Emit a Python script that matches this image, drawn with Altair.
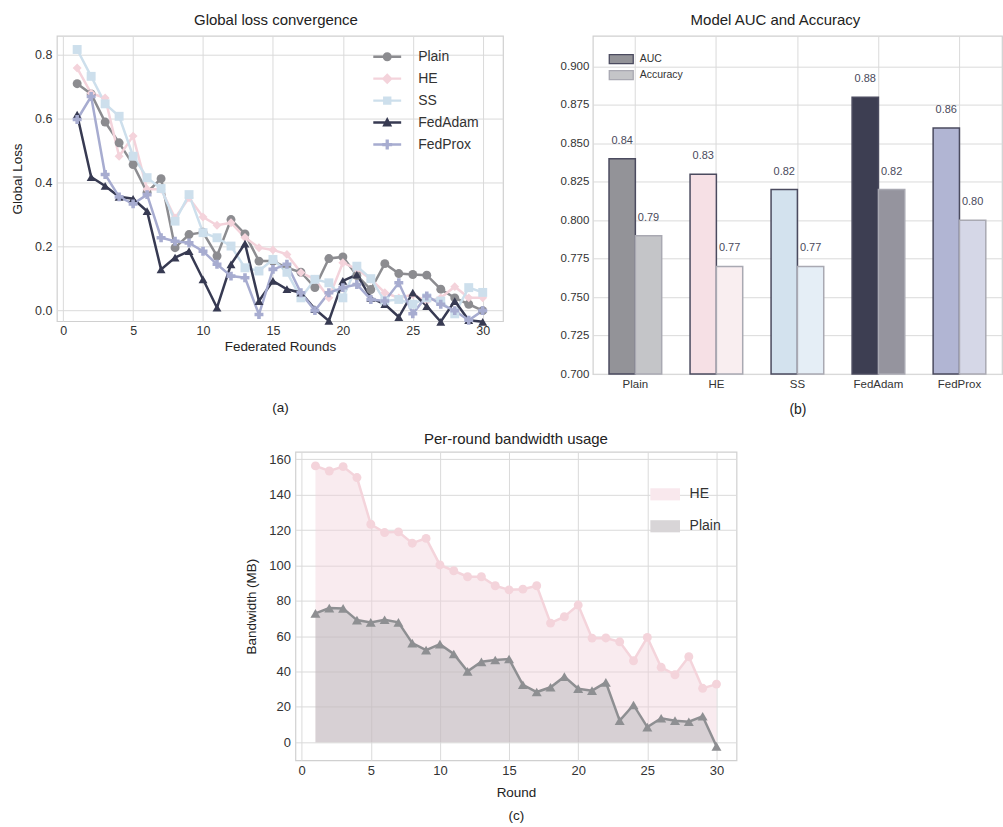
import altair as alt
import pandas as pd

FONT = "Liberation Sans"

# ---------------- data: panel (a) ----------------
ROUNDS = [1, 2, 3, 4, 5, 6, 7, 8, 9, 10, 11, 12, 13, 14, 15,
          16, 17, 18, 19, 20, 21, 22, 23, 24, 25, 26, 27, 28, 29, 30]
SERIES = ["Plain", "HE", "SS", "FedAdam", "FedProx"]
SERIES_COLORS = ["#8c8c90", "#f4d3db", "#cddfec", "#373a52", "#a7acd0"]
LOSS_PLAIN = [0.710, 0.678, 0.590, 0.525, 0.457, 0.370, 0.413, 0.197, 0.238, 0.245,
              0.171, 0.285, 0.240, 0.155, 0.155, 0.134, 0.120, 0.072, 0.163, 0.168,
              0.110, 0.066, 0.147, 0.116, 0.113, 0.111, 0.067, 0.040, 0.020, 0.000]
LOSS_HE = [0.759, 0.680, 0.665, 0.483, 0.546, 0.380, 0.380, 0.290, 0.353, 0.293,
           0.267, 0.275, 0.229, 0.197, 0.190, 0.176, 0.119, 0.098, 0.040, 0.150,
           0.130, 0.098, 0.056, 0.040, 0.050, 0.030, 0.040, 0.075, 0.040, 0.040]
LOSS_SS = [0.817, 0.733, 0.647, 0.608, 0.483, 0.416, 0.382, 0.280, 0.363, 0.244,
           0.228, 0.202, 0.134, 0.124, 0.160, 0.120, 0.040, 0.098, 0.087, 0.040,
           0.139, 0.100, 0.030, 0.035, 0.020, 0.040, 0.030, -0.010, 0.072, 0.057]
LOSS_FEDADAM = [0.613, 0.418, 0.390, 0.356, 0.350, 0.311, 0.129, 0.166, 0.186, 0.098,
                0.009, 0.145, 0.210, 0.030, 0.093, 0.067, 0.056, 0.005, -0.032, 0.093,
                0.113, 0.040, 0.020, -0.020, 0.056, 0.014, -0.035, 0.030, -0.030, -0.035]
LOSS_FEDPROX = [0.598, 0.670, 0.426, 0.356, 0.334, 0.363, 0.228, 0.217, 0.212, 0.186,
                0.145, 0.108, 0.103, -0.012, 0.129, 0.145, 0.056, 0.000, 0.056, 0.072,
                0.082, 0.035, 0.030, 0.087, -0.010, 0.046, 0.020, 0.000, -0.030, 0.000]
LOSS_TICKS = [0.0, 0.2, 0.4, 0.6, 0.8]
ROUND_TICKS = [0, 5, 10, 15, 20, 25, 30]

# ---------------- data: panel (b) ----------------
MODELS = ["Plain", "HE", "SS", "FedAdam", "FedProx"]
METRICS = ["AUC", "Accuracy"]
AUC = [0.84, 0.83, 0.82, 0.88, 0.86]
ACCURACY = [0.79, 0.77, 0.77, 0.82, 0.80]
AUC_COLORS = ["#939398", "#f6e0e5", "#d3e2ee", "#3d3e52", "#b1b5d3"]
ACC_COLORS = ["#c4c5c8", "#f9eef0", "#e5eef6", "#95949e", "#d5d7e7"]
EDGE_COLORS = ["#4b4b5f", "#a9a9b2"]
LEGEND_B_COLORS = ["#939398", "#c4c5c8"]
SCORE_TICKS = [0.700, 0.725, 0.750, 0.775, 0.800, 0.825, 0.850, 0.875, 0.900]

# ---------------- data: panel (c) ----------------
BW_HE = [156.3, 153.4, 155.9, 149.7, 123.3, 118.6, 119.0, 112.6, 115.3, 100.3,
         97.0, 93.6, 93.6, 88.5, 86.2, 86.6, 88.5, 67.4, 71.0, 77.6,
         58.9, 59.0, 56.8, 46.1, 59.3, 42.4, 38.2, 48.4, 30.5, 32.9]
BW_PLAIN = [72.9, 75.9, 75.7, 69.1, 67.8, 69.3, 67.8, 56.1, 52.1, 55.5,
            49.9, 40.1, 45.5, 46.5, 47.1, 32.5, 28.4, 31.1, 37.1, 30.3,
            29.2, 33.9, 12.2, 21.1, 8.6, 13.6, 12.2, 11.6, 14.7, -2.3]
BW_SERIES = ["HE", "Plain"]
BW_LEGEND_COLORS = ["#f9e8ed", "#d8d5d7"]
BW_TICKS = [0, 20, 40, 60, 80, 100, 120, 140, 160]

# ---------------- tables ----------------
loss_cols = [LOSS_PLAIN, LOSS_HE, LOSS_SS, LOSS_FEDADAM, LOSS_FEDPROX]
df_a = pd.DataFrame([
    {"round": r, "series": s, "loss": v}
    for s, vals in zip(SERIES, loss_cols) for r, v in zip(ROUNDS, vals)
])

rows_b = []
for m, a, c in zip(MODELS, AUC, ACCURACY):
    rows_b.append({"model": m, "metric": "AUC", "value": a, "key": m + "|AUC", "label": f"{a:.2f}"})
    rows_b.append({"model": m, "metric": "Accuracy", "value": c, "key": m + "|Accuracy", "label": f"{c:.2f}"})
df_b = pd.DataFrame(rows_b)
KEYS = [m + "|AUC" for m in MODELS] + [m + "|Accuracy" for m in MODELS]
KEY_COLORS = AUC_COLORS + ACC_COLORS

df_c = pd.DataFrame(
    [{"round": r, "series": "HE", "bw": v} for r, v in zip(ROUNDS, BW_HE)]
    + [{"round": r, "series": "Plain", "bw": v} for r, v in zip(ROUNDS, BW_PLAIN)]
)

# ---------------- panel (a) ----------------
LEG_A_SHAPES = [
    "M-1.27,-0.11H1.27V0.11H-1.27Z M0.41,0A0.41,0.41,0,1,1,-0.41,0A0.41,0.41,0,1,1,0.41,0Z",
    "M-1.27,-0.11H1.27V0.11H-1.27Z M0,-0.5L0.5,0L0,0.5L-0.5,0Z",
    "M-1.27,-0.11H1.27V0.11H-1.27Z M-0.38,-0.38H0.38V0.38H-0.38Z",
    "M-1.27,-0.11H1.27V0.11H-1.27Z M0,-0.5L0.45,0.36L-0.45,0.36Z",
    "M-1.27,-0.11H1.27V0.11H-1.27Z M-0.15,-0.45H0.15V-0.15H0.45V0.15H0.15V0.45H-0.15V0.15H-0.45V-0.15H-0.15Z",
]

x_a = alt.X("round:Q", scale=alt.Scale(domain=[-0.45, 31.45], nice=False, zero=False),
            axis=alt.Axis(values=ROUND_TICKS, labelFontSize=12.5, titleFontSize=13.5,
                          labelPadding=3, titlePadding=3, titleLineHeight=61,
                          title=["Federated Rounds", "(a)"]))
y_a = alt.Y("loss:Q", scale=alt.Scale(domain=[-0.033, 0.86], nice=False, zero=False),
            axis=alt.Axis(values=LOSS_TICKS, format=".1f", labelFontSize=12.5,
                          titleFontSize=13.5, labelPadding=5, titlePadding=10,
                          title="Global Loss"))
color_a = alt.Color("series:N", scale=alt.Scale(domain=SERIES, range=SERIES_COLORS), legend=None)

base_a = alt.Chart(df_a)
lines_a = base_a.mark_line(strokeWidth=2.5).encode(x=x_a, y=y_a, color=color_a)
points_a = base_a.mark_point(filled=True, size=80, opacity=1).encode(
    x=x_a, y=y_a, color=color_a,
    shape=alt.Shape("series:N", scale=alt.Scale(
        domain=SERIES, range=["circle", "diamond", "square", "triangle-up", "cross"]), legend=None))
leg_a = alt.Legend(title=None, orient="none", legendX=320, legendY=10, symbolSize=484,
                   symbolStrokeWidth=0, symbolOpacity=1, labelFontSize=14, labelOffset=20,
                   rowPadding=4, labelColor="#333333", labelFont=FONT)
legend_a = base_a.mark_point(filled=True, opacity=0).encode(
    x=x_a, y=y_a,
    fill=alt.Fill("series:N", scale=alt.Scale(domain=SERIES, range=SERIES_COLORS), legend=leg_a),
    shape=alt.Shape("series:N", scale=alt.Scale(domain=SERIES, range=LEG_A_SHAPES), legend=leg_a))

chart_a = alt.layer(lines_a, points_a, legend_a).resolve_scale(
    shape="independent", fill="independent"
).properties(width=447, height=286,
             title=alt.TitleParams("Global loss convergence", dx=-4))

# ---------------- panel (b) ----------------
x_b = alt.X("model:N", sort=MODELS,
            scale=alt.Scale(paddingInner=0.35, paddingOuter=0.2),
            axis=alt.Axis(labelAngle=0, labelFontSize=11.5, bandPosition=0.5, grid=True,
                          labelPadding=4, title="(b)", titleFontSize=14, titlePadding=13))
xo_b = alt.XOffset("metric:N", sort=METRICS, scale=alt.Scale(paddingInner=0, paddingOuter=0))
y_b = alt.Y("value:Q", scale=alt.Scale(domain=[0.70, 0.92], nice=False, zero=False),
            axis=alt.Axis(values=SCORE_TICKS, format=".3f", labelFontSize=11.5,
                          labelPadding=4, title=None))

base_b = alt.Chart(df_b)
bars_b = base_b.mark_bar(strokeWidth=1.5).encode(
    x=x_b, xOffset=xo_b, y=y_b, y2=alt.datum(0.70),
    color=alt.Color("key:N", scale=alt.Scale(domain=KEYS, range=KEY_COLORS), legend=None),
    stroke=alt.Stroke("metric:N", scale=alt.Scale(domain=METRICS, range=EDGE_COLORS), legend=None))
text_b = base_b.mark_text(dy=-18, fontSize=11, color="#4a4a5c", font=FONT).encode(
    x=x_b, xOffset=xo_b, y=y_b, text="label:N")
leg_b = alt.Legend(title=None, orient="none", legendX=20, legendY=15,
                   symbolType="M-1.54,-0.58H1.54V0.58H-1.54Z", symbolSize=243,
                   symbolStrokeWidth=1.3, symbolOpacity=1, labelFontSize=10.5,
                   labelOffset=10, rowPadding=0, labelColor="#333333", labelFont=FONT)
legend_b = base_b.mark_point(filled=True, opacity=0).encode(
    x=x_b, y=y_b,
    fill=alt.Fill("metric:N", scale=alt.Scale(domain=METRICS, range=LEGEND_B_COLORS), legend=leg_b),
    stroke=alt.Stroke("metric:N", scale=alt.Scale(domain=METRICS, range=EDGE_COLORS), legend=leg_b))

chart_b = alt.layer(bars_b, text_b, legend_b).resolve_scale(
    color="independent", fill="independent", stroke="independent"
).properties(width=410, height=339,
             title=alt.TitleParams("Model AUC and Accuracy", dx=-22))

# ---------------- panel (c) ----------------
x_c = alt.X("round:Q", scale=alt.Scale(domain=[-0.45, 31.45], nice=False, zero=False),
            axis=alt.Axis(values=ROUND_TICKS, labelFontSize=13, titleFontSize=13.5,
                          labelPadding=4, titlePadding=8, titleLineHeight=23,
                          title=["Round", "(c)"]))
y_c = alt.Y("bw:Q", scale=alt.Scale(domain=[-10.2, 164.2], nice=False, zero=False),
            axis=alt.Axis(values=BW_TICKS, labelFontSize=13, titleFontSize=13.5,
                          labelPadding=5, titlePadding=10, title="Bandwidth (MB)"))

base_c = alt.Chart(df_c)
he_c = base_c.transform_filter(alt.datum.series == "HE")
pl_c = base_c.transform_filter(alt.datum.series == "Plain")
area_he = he_c.mark_area(color="#f0d0da", opacity=0.42).encode(x=x_c, y=y_c, y2=alt.datum(0))
area_pl = pl_c.mark_area(color="#a9acad", opacity=0.42).encode(x=x_c, y=y_c, y2=alt.datum(0))
line_he = he_c.mark_line(color="#f4d4db", strokeWidth=2.5).encode(x=x_c, y=y_c)
pts_he = he_c.mark_point(filled=True, shape="circle", size=80, color="#f4d4db", opacity=1).encode(x=x_c, y=y_c)
line_pl = pl_c.mark_line(color="#8e8f92", strokeWidth=2.5).encode(x=x_c, y=y_c)
pts_pl = pl_c.mark_point(filled=True, shape="triangle-up", size=100, color="#8e8f92", opacity=1).encode(x=x_c, y=y_c)
leg_c = alt.Legend(title=None, orient="none", legendX=357, legendY=29,
                   symbolType="M-1.1,-0.45H1.1V0.45H-1.1Z", symbolSize=729,
                   symbolStrokeWidth=0, symbolOpacity=1, labelFontSize=14,
                   labelOffset=11, rowPadding=11, labelColor="#333333", labelFont=FONT)
legend_c = base_c.mark_point(filled=True, opacity=0).encode(
    x=x_c, y=y_c,
    fill=alt.Fill("series:N", scale=alt.Scale(domain=BW_SERIES, range=BW_LEGEND_COLORS), legend=leg_c))

chart_c = alt.layer(area_he, area_pl, line_he, pts_he, line_pl, pts_pl, legend_c).properties(
    width=442, height=309,
    title=alt.TitleParams("Per-round bandwidth usage", offset=5))

spacer = alt.Chart(pd.DataFrame({"v": [0]})).mark_point(opacity=0).encode(
    x=alt.X("v:Q", axis=None), y=alt.Y("v:Q", axis=None)
).properties(width=186, height=20, view=alt.ViewBackground(stroke="transparent"))

INDEP = dict(color="independent", fill="independent", stroke="independent", shape="independent")
row1 = alt.hconcat(chart_a, chart_b, spacing=55).resolve_scale(**INDEP)
row2 = alt.hconcat(spacer, chart_c, spacing=0).resolve_scale(**INDEP)

chart = alt.vconcat(row1, row2, spacing=13).resolve_scale(**INDEP).properties(
    padding={"left": 10, "top": 11, "right": 0, "bottom": 0},
    background="white",
).configure_view(
    stroke="#d0d0d0", strokeWidth=1.2
).configure_axis(
    grid=True, gridColor="#dadada", gridWidth=1, domain=False, ticks=False,
    labelColor="#333333", titleColor="#222222", labelFont=FONT, titleFont=FONT,
    titleFontWeight="normal"
).configure_title(
    font=FONT, fontSize=15, fontWeight="normal", color="#222222", offset=8
).configure_legend(labelFont=FONT)

chart.save("out.html", embed_options={"renderer": "svg", "actions": False})
